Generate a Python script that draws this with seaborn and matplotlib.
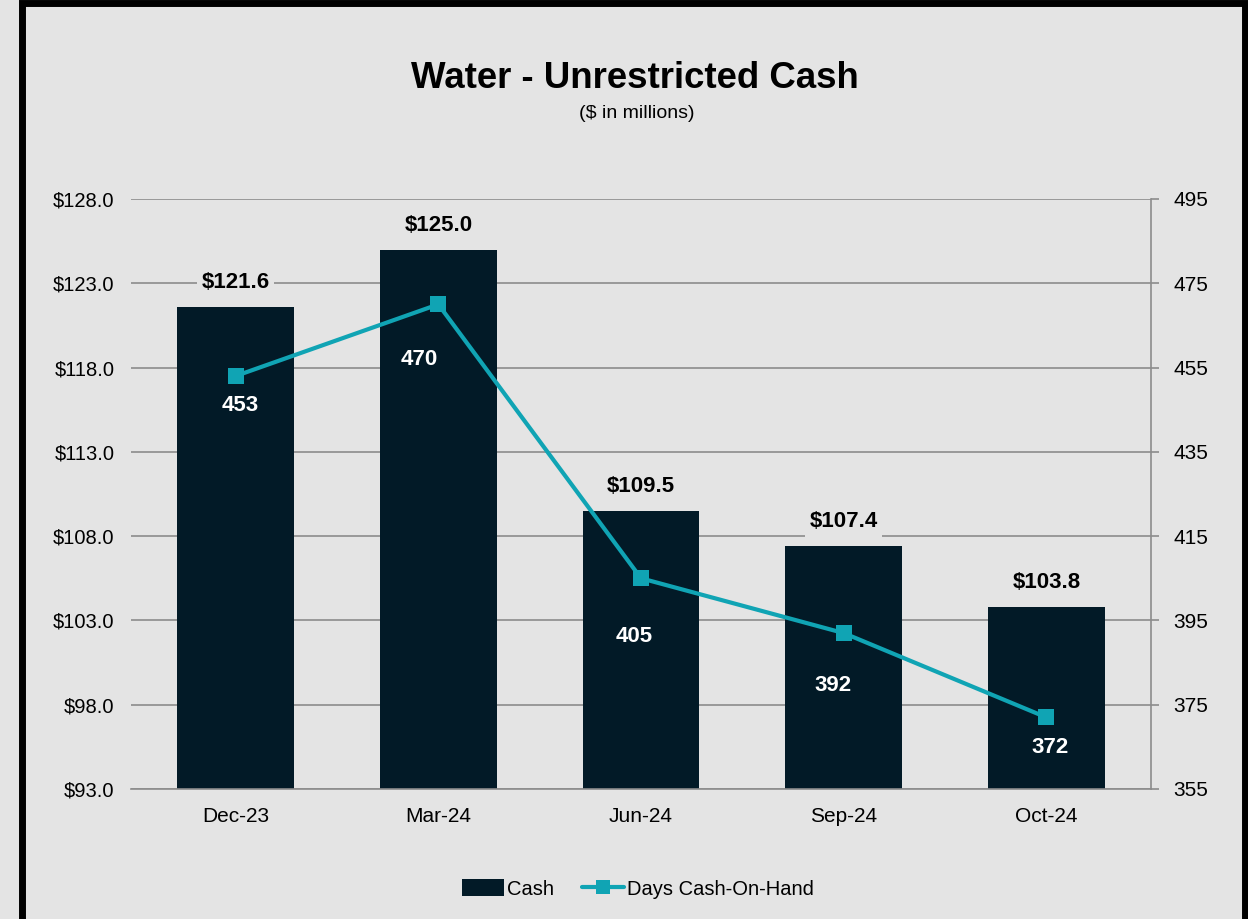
import numpy as np
import pandas as pd
import matplotlib
matplotlib.use("Agg")
import matplotlib.pyplot as plt
import seaborn as sns
from matplotlib.patches import Rectangle, Patch
from matplotlib.lines import Line2D

# data
months = ["Dec-23", "Mar-24", "Jun-24", "Sep-24", "Oct-24"]
cash = [121.6, 125.0, 109.5, 107.4, 103.8]
days_cash = [453, 470, 405, 392, 372]

# label placement for the days labels (offset in points from each marker)
day_label_dx = [3, -14, -5, -8, 3]
day_label_dy = [-14, -32, -34, -30, -14]

bg = "#e4e4e4"
bar_color = "#021a27"
line_color = "#10a4b4"
grid_color = "#8c8c8c"

sns.set_theme(style="white")
plt.rcParams['font.family'] = ['Liberation Sans', 'DejaVu Sans']

df = pd.DataFrame({"month": months, "cash": cash, "days": days_cash})

fig = plt.figure(figsize=(12.48, 9.19), dpi=100, facecolor=bg)
ax = fig.add_axes([131/1248, 1 - 789/919, (1151-131)/1248, (789-199)/919])
ax.set_facecolor(bg)

# bars on the left axis
sns.barplot(data=df, x="month", y="cash", color=bar_color, width=0.575,
            saturation=1, edgecolor="none", linewidth=0, ax=ax, zorder=2)
ax.set_ylim(93, 128)
ax.set_yticks(np.arange(93, 129, 5))
ax.set_yticklabels(["$%.1f" % v for v in np.arange(93, 129, 5)], fontsize=14.5,
                   color="black")
ax.set_xlabel("")
ax.set_ylabel("")
ax.tick_params(axis="x", labelsize=15, labelcolor="black", length=0, pad=13)
ax.tick_params(axis="y", length=0, pad=12)
ax.grid(axis="y", color=grid_color, linewidth=1.2, zorder=0)
ax.set_axisbelow(True)
for s in ["top", "left", "right"]:
    ax.spines[s].set_visible(False)
ax.spines["bottom"].set_color(grid_color)
ax.spines["bottom"].set_linewidth(1.2)

for i, v in enumerate(cash):
    ax.annotate("$%.1f" % v, (i, v), xytext=(0, 10), textcoords="offset points",
                ha="center", va="bottom", fontsize=16, fontweight="bold",
                color="black", zorder=5,
                bbox=dict(boxstyle="square,pad=0.2", fc=bg, ec="none"))

# line on the right axis
ax2 = ax.twinx()
sns.lineplot(x=np.arange(len(months)), y=days_cash, ax=ax2, color=line_color,
             linewidth=3, marker="s", markersize=11, markeredgewidth=0, zorder=4)
ax2.set_ylim(355, 495)
ax2.set_yticks(np.arange(355, 496, 20))
ax2.tick_params(axis="y", labelsize=15, labelcolor="black", length=6,
                color=grid_color, width=1.2, pad=10)
for s in ["top", "left", "bottom"]:
    ax2.spines[s].set_visible(False)
ax2.spines["right"].set_color(grid_color)
ax2.spines["right"].set_linewidth(1.2)
ax2.grid(False)
ax2.set_ylabel("")

for i, v in enumerate(days_cash):
    ax2.annotate(str(v), (i, v), xytext=(day_label_dx[i], day_label_dy[i]),
                 textcoords="offset points", ha="center", va="top",
                 fontsize=16, fontweight="bold", color="white", zorder=6)

# titles
fig.text(635/1248, 1 - 79/919, "Water - Unrestricted Cash", ha="center", va="center",
         fontsize=26.4, fontweight="bold", color="black")
fig.text(637/1248, 1 - 113/919, "($ in millions)", ha="center", va="center",
         fontsize=14, color="black")

# legend
handles = [Patch(facecolor=bar_color, edgecolor="none", label="Cash"),
           Line2D([0], [0], color=line_color, linewidth=3, marker="s",
                  markersize=10, markeredgewidth=0, label="Days Cash-On-Hand")]
fig.legend(handles=handles, loc="center", bbox_to_anchor=(638/1248, 1 - 889/919),
           ncol=2, frameon=False, fontsize=14.5, labelcolor="black",
           handlelength=2.1, handleheight=0.9, handletextpad=0.15,
           columnspacing=1.4)

# black frame around the chart
fig.patches.append(Rectangle((22/1248, -0.05), (1245-22)/1248, 1.05 - 3/919,
                             transform=fig.transFigure, fill=False,
                             edgecolor="black", linewidth=5, zorder=10))

fig.savefig("out.png", dpi=100, facecolor=bg)
